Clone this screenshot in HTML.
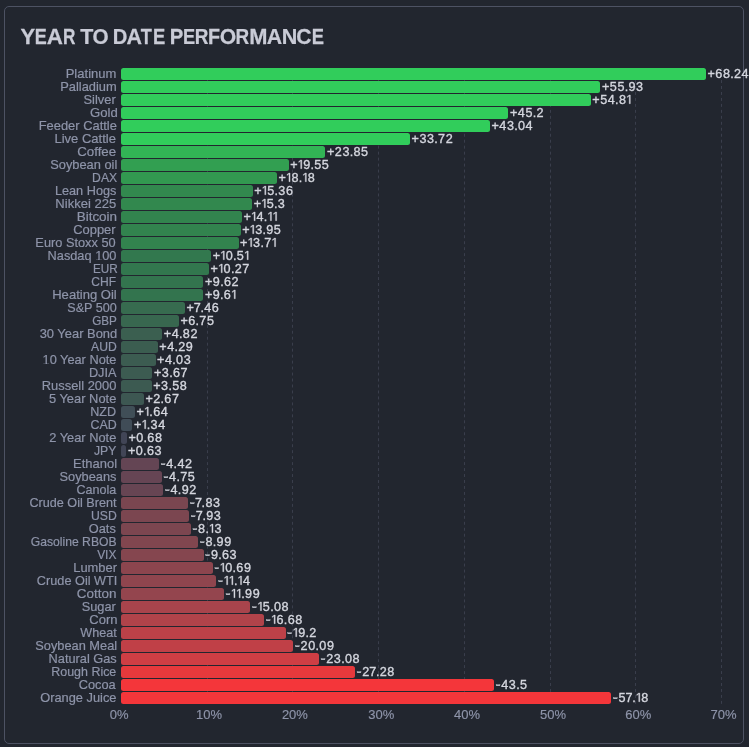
<!DOCTYPE html>
<html><head><meta charset="utf-8"><style>
*{margin:0;padding:0;box-sizing:border-box}
html,body{width:749px;height:747px;overflow:hidden;background:#22262f;font-family:"Liberation Sans",sans-serif}
.card{position:absolute;left:4px;top:6px;width:740px;height:738px;border:1px solid #4d5263;border-radius:5px}
.b{position:absolute;left:121.0px;height:11.7px;border-radius:2.5px}
.l{position:absolute;right:632.2px;height:16px;line-height:16px;font-size:12.7px;color:#8e94a9;white-space:nowrap;text-align:right;transform-origin:100% 50%;-webkit-text-stroke:0.2px #8e94a9}
.t{position:absolute;top:708px;width:60px;text-align:center;font-size:13px;color:#8e94a9;line-height:14px;-webkit-text-stroke:0.15px #8e94a9}
svg{position:absolute;left:0;top:0}
.o{clip-path:polygon(-2px -2px,10px -2px,10px 10.45px,4.45px 10.45px,4.45px 20px,3.05px 20px,3.05px 10.45px,-2px 10.45px)}
#wrap{position:absolute;left:0;top:0;width:749px;height:747px;will-change:transform}
</style></head><body><div id="wrap">
<div class="card"></div>
<svg width="749" height="747"><g fill="#c9cbd6" stroke="#c9cbd6" stroke-width="0.25" font-size="22" font-weight="bold" font-family="Liberation Sans"><text transform="translate(20.43 44.0) scale(0.9969 1)">Y</text><text transform="translate(34.70 44.0) scale(0.8183 1)">E</text><text transform="translate(46.84 44.0) scale(1.0163 1)">A</text><text transform="translate(62.95 44.0) scale(0.7805 1)">R</text><text transform="translate(80.16 44.0) scale(0.9726 1)">T</text><text transform="translate(92.55 44.0) scale(0.9420 1)">O</text><text transform="translate(112.65 44.0) scale(0.9191 1)">D</text><text transform="translate(126.47 44.0) scale(0.9756 1)">A</text><text transform="translate(140.80 44.0) scale(0.8259 1)">T</text><text transform="translate(153.07 44.0) scale(0.8345 1)">E</text><text transform="translate(169.84 44.0) scale(0.9237 1)">P</text><text transform="translate(182.98 44.0) scale(0.8264 1)">E</text><text transform="translate(194.74 44.0) scale(0.8593 1)">R</text><text transform="translate(208.08 44.0) scale(0.8960 1)">F</text><text transform="translate(219.83 44.0) scale(0.9617 1)">O</text><text transform="translate(235.44 44.0) scale(0.8593 1)">R</text><text transform="translate(249.24 44.0) scale(0.9946 1)">M</text><text transform="translate(266.87 44.0) scale(0.9689 1)">A</text><text transform="translate(281.75 44.0) scale(0.9819 1)">N</text><text transform="translate(296.33 44.0) scale(0.9594 1)">C</text><text transform="translate(311.77 44.0) scale(0.8345 1)">E</text></g></svg>
<svg width="749" height="747"><g stroke="#3a3e4c" stroke-width="1" stroke-dasharray="2.985 2.985"><line x1="207.5" y1="68.08" x2="207.5" y2="704.3"/><line x1="292.5" y1="68.08" x2="292.5" y2="704.3"/><line x1="378.5" y1="68.08" x2="378.5" y2="704.3"/><line x1="464.5" y1="68.08" x2="464.5" y2="704.3"/><line x1="550.5" y1="68.08" x2="550.5" y2="704.3"/><line x1="635.5" y1="68.08" x2="635.5" y2="704.3"/><line x1="721.5" y1="68.08" x2="721.5" y2="704.3"/></g></svg>
<div class="b" style="top:68.00px;width:584.91px;background:#31cd5b"></div><div class="l" style="top:65.85px;right:632.25px;transform:scaleX(1.0266)">Platinum</div><div class="b" style="top:81.00px;width:479.40px;background:#31cd5b"></div><div class="l" style="top:78.85px;right:632.36px;transform:scaleX(1.0139)">Palladium</div><div class="b" style="top:94.00px;width:469.80px;background:#31cd5b"></div><div class="l" style="top:91.85px;right:633.37px;transform:scaleX(1.0148)">Silver</div><div class="b" style="top:107.00px;width:387.43px;background:#31cd5b"></div><div class="l" style="top:104.85px;right:631.58px;transform:scaleX(1.0355)">Gold</div><div class="b" style="top:120.00px;width:368.91px;background:#31cd5b"></div><div class="l" style="top:117.85px;right:632.28px;transform:scaleX(1.0166)">Feeder Cattle</div><div class="b" style="top:133.00px;width:289.03px;background:#31cd5b"></div><div class="l" style="top:130.85px;right:632.58px;transform:scaleX(1.0264)">Live Cattle</div><div class="b" style="top:146.00px;width:204.43px;background:#32b455"></div><div class="l" style="top:143.85px;right:632.64px;transform:scaleX(1.0497)">Coffee</div><div class="b" style="top:159.00px;width:167.57px;background:#329f51"></div><div class="l" style="top:156.85px;right:632.12px;transform:scaleX(1.0122)">Soybean oil</div><div class="b" style="top:172.00px;width:155.83px;background:#329850"></div><div class="l" style="top:169.85px;right:632.29px;transform:scaleX(0.9575)">DAX</div><div class="b" style="top:185.00px;width:131.66px;background:#32884e"></div><div class="l" style="top:182.85px;right:632.25px;transform:scaleX(1.0018)">Lean Hogs</div><div class="b" style="top:198.00px;width:131.14px;background:#32884e"></div><div class="l" style="top:195.85px;right:632.54px;transform:scaleX(1.0280)">Nikkei 225</div><div class="b" style="top:211.00px;width:120.94px;background:#32844e"></div><div class="l" style="top:208.85px;right:632.16px;transform:scaleX(1.0612)">Bitcoin</div><div class="b" style="top:224.00px;width:119.57px;background:#32834e"></div><div class="l" style="top:221.85px;right:633.26px;transform:scaleX(1.0205)">Copper</div><div class="b" style="top:237.00px;width:117.51px;background:#32834e"></div><div class="l" style="top:234.85px;right:632.87px;transform:scaleX(1.0081)">Euro Stoxx 50</div><div class="b" style="top:250.00px;width:90.09px;background:#32784e"></div><div class="l" style="top:247.85px;right:632.43px;transform:scaleX(1.0063)">Nasdaq <span class="o">1</span>00</div><div class="b" style="top:263.00px;width:88.03px;background:#32774e"></div><div class="l" style="top:260.85px;right:631.69px;transform:scaleX(0.9247)">EUR</div><div class="b" style="top:276.00px;width:82.46px;background:#33744e"></div><div class="l" style="top:273.85px;right:632.85px;transform:scaleX(0.9524)">CHF</div><div class="b" style="top:289.00px;width:82.37px;background:#33744e"></div><div class="l" style="top:286.85px;right:632.18px;transform:scaleX(1.0287)">Heating Oil</div><div class="b" style="top:302.00px;width:63.94px;background:#376b4f"></div><div class="l" style="top:299.85px;right:632.44px;transform:scaleX(0.9946)">S&amp;P 500</div><div class="b" style="top:315.00px;width:57.86px;background:#38674f"></div><div class="l" style="top:312.85px;right:632.64px;transform:scaleX(0.9206)">GBP</div><div class="b" style="top:328.00px;width:41.31px;background:#3b5f50"></div><div class="l" style="top:325.85px;right:631.90px;transform:scaleX(1.0177)">30 Year Bond</div><div class="b" style="top:341.00px;width:36.77px;background:#3b5d50"></div><div class="l" style="top:338.85px;right:632.06px;transform:scaleX(0.9591)">AUD</div><div class="b" style="top:354.00px;width:34.54px;background:#3c5c51"></div><div class="l" style="top:351.85px;right:632.31px;transform:scaleX(1.0060)"><span class="o">1</span>0 Year Note</div><div class="b" style="top:367.00px;width:31.46px;background:#3c5b51"></div><div class="l" style="top:364.85px;right:632.74px;transform:scaleX(1.0044)">DJIA</div><div class="b" style="top:380.00px;width:30.69px;background:#3c5a51"></div><div class="l" style="top:377.85px;right:632.45px;transform:scaleX(1.0165)">Russell 2000</div><div class="b" style="top:393.00px;width:22.89px;background:#3d5752"></div><div class="l" style="top:390.85px;right:632.35px;transform:scaleX(1.0161)">5 Year Note</div><div class="b" style="top:406.00px;width:14.06px;background:#404e57"></div><div class="l" style="top:403.85px;right:632.60px;transform:scaleX(0.9930)">NZD</div><div class="b" style="top:419.00px;width:11.49px;background:#404c57"></div><div class="l" style="top:416.85px;right:632.71px;transform:scaleX(0.9774)">CAD</div><div class="b" style="top:432.00px;width:5.83px;background:#414556"></div><div class="l" style="top:429.85px;right:632.30px;transform:scaleX(1.0119)">2 Year Note</div><div class="b" style="top:445.00px;width:5.40px;background:#414556"></div><div class="l" style="top:442.85px;right:632.89px;transform:scaleX(0.9614)">JPY</div><div class="b" style="top:458.00px;width:37.89px;background:#644554"></div><div class="l" style="top:455.85px;right:632.37px;transform:scaleX(1.0204)">Ethanol</div><div class="b" style="top:471.00px;width:40.71px;background:#664554"></div><div class="l" style="top:468.85px;right:632.35px;transform:scaleX(1.0093)">Soybeans</div><div class="b" style="top:484.00px;width:42.17px;background:#674553"></div><div class="l" style="top:481.85px;right:633.00px;transform:scaleX(0.9874)">Canola</div><div class="b" style="top:497.00px;width:67.11px;background:#7a4650"></div><div class="l" style="top:494.85px;right:632.89px;transform:scaleX(0.9945)">Crude Oil Brent</div><div class="b" style="top:510.00px;width:67.97px;background:#7b4650"></div><div class="l" style="top:507.85px;right:632.16px;transform:scaleX(0.9620)">USD</div><div class="b" style="top:523.00px;width:69.69px;background:#7c4650"></div><div class="l" style="top:520.85px;right:632.97px;transform:scaleX(1.0055)">Oats</div><div class="b" style="top:536.00px;width:77.06px;background:#81464f"></div><div class="l" style="top:533.85px;right:632.52px;transform:scaleX(0.9581)">Gasoline RBOB</div><div class="b" style="top:549.00px;width:82.54px;background:#85464f"></div><div class="l" style="top:546.85px;right:632.81px;transform:scaleX(0.9448)">VIX</div><div class="b" style="top:562.00px;width:91.63px;background:#8c454e"></div><div class="l" style="top:559.85px;right:632.36px;transform:scaleX(1.0179)">Lumber</div><div class="b" style="top:575.00px;width:95.49px;background:#8f454e"></div><div class="l" style="top:572.85px;right:631.78px;transform:scaleX(1.0019)">Crude Oil WTI</div><div class="b" style="top:588.00px;width:102.77px;background:#94454e"></div><div class="l" style="top:585.85px;right:632.22px;transform:scaleX(1.0606)">Cotton</div><div class="b" style="top:601.00px;width:129.26px;background:#a8444c"></div><div class="l" style="top:598.85px;right:632.85px;transform:scaleX(1.0098)">Sugar</div><div class="b" style="top:614.00px;width:142.97px;background:#b0434a"></div><div class="l" style="top:611.85px;right:631.94px;transform:scaleX(1.0260)">Corn</div><div class="b" style="top:627.00px;width:164.57px;background:#bc4148"></div><div class="l" style="top:624.85px;right:632.83px;transform:scaleX(0.9929)">Wheat</div><div class="b" style="top:640.00px;width:172.20px;background:#c04047"></div><div class="l" style="top:637.85px;right:632.27px;transform:scaleX(1.0091)">Soybean Meal</div><div class="b" style="top:653.00px;width:197.83px;background:#cf3e44"></div><div class="l" style="top:650.85px;right:632.68px;transform:scaleX(1.0065)">Natural Gas</div><div class="b" style="top:666.00px;width:233.83px;background:#e6393c"></div><div class="l" style="top:663.85px;right:632.23px;transform:scaleX(0.9808)">Rough Rice</div><div class="b" style="top:679.00px;width:372.86px;background:#f4363a"></div><div class="l" style="top:676.85px;right:633.41px;transform:scaleX(1.0083)">Cocoa</div><div class="b" style="top:692.00px;width:490.11px;background:#f4363a"></div><div class="l" style="top:689.85px;right:632.34px;transform:scaleX(1.0111)">Orange Juice</div>
<div class="t" style="left:89.10px">0%</div><div class="t" style="left:179.10px">10%</div><div class="t" style="left:264.90px">20%</div><div class="t" style="left:351.20px">30%</div><div class="t" style="left:437.10px">40%</div><div class="t" style="left:523.10px">50%</div><div class="t" style="left:608.20px">60%</div><div class="t" style="left:693.60px">70%</div>
<svg width="749" height="747" style="overflow:visible"><g fill="#d5d7df" stroke="#d5d7df" stroke-width="0.35" font-size="12.6" text-anchor="middle" font-family="Liberation Sans"><g transform="translate(707.31 77.70)"><text x="3.85">+</text><text x="11.50">6</text><text x="19.10">8</text><text x="24.65">.</text><text x="30.20">2</text><text x="37.80">4</text></g><g transform="translate(601.80 90.70)"><text x="3.85">+</text><text x="11.50">5</text><text x="19.10">5</text><text x="24.65">.</text><text x="30.20">9</text><text x="37.80">3</text></g><g transform="translate(592.20 103.70)"><text x="3.85">+</text><text x="11.50">5</text><text x="19.10">4</text><text x="24.65">.</text><text x="30.20">8</text><path transform="translate(33.85 0) scale(0.00615 -0.00615)" d="M515 0V1237L197 1010V1180L530 1409H696V0Z" vector-effect="non-scaling-stroke"/></g><g transform="translate(509.83 116.70)"><text x="3.85">+</text><text x="11.50">4</text><text x="19.10">5</text><text x="24.65">.</text><text x="30.20">2</text></g><g transform="translate(491.31 129.70)"><text x="3.85">+</text><text x="11.50">4</text><text x="19.10">3</text><text x="24.65">.</text><text x="30.20">0</text><text x="37.80">4</text></g><g transform="translate(411.43 142.70)"><text x="3.85">+</text><text x="11.50">3</text><text x="19.10">3</text><text x="24.65">.</text><text x="30.20">7</text><text x="37.80">2</text></g><g transform="translate(326.83 155.70)"><text x="3.85">+</text><text x="11.50">2</text><text x="19.10">3</text><text x="24.65">.</text><text x="30.20">8</text><text x="37.80">5</text></g><g transform="translate(289.97 168.70)"><text x="3.85">+</text><path transform="translate(7.55 0) scale(0.00615 -0.00615)" d="M515 0V1237L197 1010V1180L530 1409H696V0Z" vector-effect="non-scaling-stroke"/><text x="16.70">9</text><text x="22.25">.</text><text x="27.80">5</text><text x="35.40">5</text></g><g transform="translate(278.23 181.70)"><text x="3.85">+</text><path transform="translate(7.55 0) scale(0.00615 -0.00615)" d="M515 0V1237L197 1010V1180L530 1409H696V0Z" vector-effect="non-scaling-stroke"/><text x="16.70">8</text><text x="22.25">.</text><path transform="translate(23.85 0) scale(0.00615 -0.00615)" d="M515 0V1237L197 1010V1180L530 1409H696V0Z" vector-effect="non-scaling-stroke"/><text x="33.00">8</text></g><g transform="translate(254.06 194.70)"><text x="3.85">+</text><path transform="translate(7.55 0) scale(0.00615 -0.00615)" d="M515 0V1237L197 1010V1180L530 1409H696V0Z" vector-effect="non-scaling-stroke"/><text x="16.70">5</text><text x="22.25">.</text><text x="27.80">3</text><text x="35.40">6</text></g><g transform="translate(253.54 207.70)"><text x="3.85">+</text><path transform="translate(7.55 0) scale(0.00615 -0.00615)" d="M515 0V1237L197 1010V1180L530 1409H696V0Z" vector-effect="non-scaling-stroke"/><text x="16.70">5</text><text x="22.25">.</text><text x="27.80">3</text></g><g transform="translate(243.34 220.70)"><text x="3.85">+</text><path transform="translate(7.55 0) scale(0.00615 -0.00615)" d="M515 0V1237L197 1010V1180L530 1409H696V0Z" vector-effect="non-scaling-stroke"/><text x="16.70">4</text><text x="22.25">.</text><path transform="translate(23.85 0) scale(0.00615 -0.00615)" d="M515 0V1237L197 1010V1180L530 1409H696V0Z" vector-effect="non-scaling-stroke"/><path transform="translate(29.05 0) scale(0.00615 -0.00615)" d="M515 0V1237L197 1010V1180L530 1409H696V0Z" vector-effect="non-scaling-stroke"/></g><g transform="translate(241.97 233.70)"><text x="3.85">+</text><path transform="translate(7.55 0) scale(0.00615 -0.00615)" d="M515 0V1237L197 1010V1180L530 1409H696V0Z" vector-effect="non-scaling-stroke"/><text x="16.70">3</text><text x="22.25">.</text><text x="27.80">9</text><text x="35.40">5</text></g><g transform="translate(239.91 246.70)"><text x="3.85">+</text><path transform="translate(7.55 0) scale(0.00615 -0.00615)" d="M515 0V1237L197 1010V1180L530 1409H696V0Z" vector-effect="non-scaling-stroke"/><text x="16.70">3</text><text x="22.25">.</text><text x="27.80">7</text><path transform="translate(31.45 0) scale(0.00615 -0.00615)" d="M515 0V1237L197 1010V1180L530 1409H696V0Z" vector-effect="non-scaling-stroke"/></g><g transform="translate(212.49 259.70)"><text x="3.85">+</text><path transform="translate(7.55 0) scale(0.00615 -0.00615)" d="M515 0V1237L197 1010V1180L530 1409H696V0Z" vector-effect="non-scaling-stroke"/><text x="16.70">0</text><text x="22.25">.</text><text x="27.80">5</text><path transform="translate(31.45 0) scale(0.00615 -0.00615)" d="M515 0V1237L197 1010V1180L530 1409H696V0Z" vector-effect="non-scaling-stroke"/></g><g transform="translate(210.43 272.70)"><text x="3.85">+</text><path transform="translate(7.55 0) scale(0.00615 -0.00615)" d="M515 0V1237L197 1010V1180L530 1409H696V0Z" vector-effect="non-scaling-stroke"/><text x="16.70">0</text><text x="22.25">.</text><text x="27.80">2</text><text x="35.40">7</text></g><g transform="translate(204.86 285.70)"><text x="3.85">+</text><text x="11.50">9</text><text x="17.05">.</text><text x="22.60">6</text><text x="30.20">2</text></g><g transform="translate(204.77 298.70)"><text x="3.85">+</text><text x="11.50">9</text><text x="17.05">.</text><text x="22.60">6</text><path transform="translate(26.25 0) scale(0.00615 -0.00615)" d="M515 0V1237L197 1010V1180L530 1409H696V0Z" vector-effect="non-scaling-stroke"/></g><g transform="translate(186.34 311.70)"><text x="3.85">+</text><text x="10.90">7</text><text x="15.85">.</text><text x="21.40">4</text><text x="29.00">6</text></g><g transform="translate(180.26 324.70)"><text x="3.85">+</text><text x="11.50">6</text><text x="17.05">.</text><text x="22.60">7</text><text x="30.20">5</text></g><g transform="translate(163.71 337.70)"><text x="3.85">+</text><text x="11.50">4</text><text x="17.05">.</text><text x="22.60">8</text><text x="30.20">2</text></g><g transform="translate(159.17 350.70)"><text x="3.85">+</text><text x="11.50">4</text><text x="17.05">.</text><text x="22.60">2</text><text x="30.20">9</text></g><g transform="translate(156.94 363.70)"><text x="3.85">+</text><text x="11.50">4</text><text x="17.05">.</text><text x="22.60">0</text><text x="30.20">3</text></g><g transform="translate(153.86 376.70)"><text x="3.85">+</text><text x="11.50">3</text><text x="17.05">.</text><text x="22.60">6</text><text x="30.20">7</text></g><g transform="translate(153.09 389.70)"><text x="3.85">+</text><text x="11.50">3</text><text x="17.05">.</text><text x="22.60">5</text><text x="30.20">8</text></g><g transform="translate(145.29 402.70)"><text x="3.85">+</text><text x="11.50">2</text><text x="17.05">.</text><text x="22.60">6</text><text x="30.20">7</text></g><g transform="translate(136.46 415.70)"><text x="3.85">+</text><path transform="translate(7.55 0) scale(0.00615 -0.00615)" d="M515 0V1237L197 1010V1180L530 1409H696V0Z" vector-effect="non-scaling-stroke"/><text x="14.65">.</text><text x="20.20">6</text><text x="27.80">4</text></g><g transform="translate(133.89 428.70)"><text x="3.85">+</text><path transform="translate(7.55 0) scale(0.00615 -0.00615)" d="M515 0V1237L197 1010V1180L530 1409H696V0Z" vector-effect="non-scaling-stroke"/><text x="14.65">.</text><text x="20.20">3</text><text x="27.80">4</text></g><g transform="translate(128.23 441.70)"><text x="3.85">+</text><text x="11.50">0</text><text x="17.05">.</text><text x="22.60">6</text><text x="30.20">8</text></g><g transform="translate(127.80 454.70)"><text x="3.85">+</text><text x="11.50">0</text><text x="17.05">.</text><text x="22.60">6</text><text x="30.20">3</text></g><g transform="translate(160.19 467.70)"><rect x="0.95" y="-3.93" width="3.9" height="0.95"/><text x="9.60">4</text><text x="15.15">.</text><text x="20.70">4</text><text x="28.30">2</text></g><g transform="translate(163.01 480.70)"><rect x="0.95" y="-3.93" width="3.9" height="0.95"/><text x="9.60">4</text><text x="15.15">.</text><text x="20.70">7</text><text x="28.30">5</text></g><g transform="translate(164.47 493.70)"><rect x="0.95" y="-3.93" width="3.9" height="0.95"/><text x="9.60">4</text><text x="15.15">.</text><text x="20.70">9</text><text x="28.30">2</text></g><g transform="translate(189.41 506.70)"><rect x="0.95" y="-3.93" width="3.9" height="0.95"/><text x="9.00">7</text><text x="13.95">.</text><text x="19.50">8</text><text x="27.10">3</text></g><g transform="translate(190.27 519.70)"><rect x="0.95" y="-3.93" width="3.9" height="0.95"/><text x="9.00">7</text><text x="13.95">.</text><text x="19.50">9</text><text x="27.10">3</text></g><g transform="translate(191.99 532.70)"><rect x="0.95" y="-3.93" width="3.9" height="0.95"/><text x="9.60">8</text><text x="15.15">.</text><path transform="translate(16.75 0) scale(0.00615 -0.00615)" d="M515 0V1237L197 1010V1180L530 1409H696V0Z" vector-effect="non-scaling-stroke"/><text x="25.90">3</text></g><g transform="translate(199.36 545.70)"><rect x="0.95" y="-3.93" width="3.9" height="0.95"/><text x="9.60">8</text><text x="15.15">.</text><text x="20.70">9</text><text x="28.30">9</text></g><g transform="translate(204.84 558.70)"><rect x="0.95" y="-3.93" width="3.9" height="0.95"/><text x="9.60">9</text><text x="15.15">.</text><text x="20.70">6</text><text x="28.30">3</text></g><g transform="translate(213.93 571.70)"><rect x="0.95" y="-3.93" width="3.9" height="0.95"/><path transform="translate(5.65 0) scale(0.00615 -0.00615)" d="M515 0V1237L197 1010V1180L530 1409H696V0Z" vector-effect="non-scaling-stroke"/><text x="14.80">0</text><text x="20.35">.</text><text x="25.90">6</text><text x="33.50">9</text></g><g transform="translate(217.79 584.70)"><rect x="0.95" y="-3.93" width="3.9" height="0.95"/><path transform="translate(5.65 0) scale(0.00615 -0.00615)" d="M515 0V1237L197 1010V1180L530 1409H696V0Z" vector-effect="non-scaling-stroke"/><path transform="translate(10.85 0) scale(0.00615 -0.00615)" d="M515 0V1237L197 1010V1180L530 1409H696V0Z" vector-effect="non-scaling-stroke"/><text x="17.95">.</text><path transform="translate(19.55 0) scale(0.00615 -0.00615)" d="M515 0V1237L197 1010V1180L530 1409H696V0Z" vector-effect="non-scaling-stroke"/><text x="28.70">4</text></g><g transform="translate(225.07 597.70)"><rect x="0.95" y="-3.93" width="3.9" height="0.95"/><path transform="translate(5.65 0) scale(0.00615 -0.00615)" d="M515 0V1237L197 1010V1180L530 1409H696V0Z" vector-effect="non-scaling-stroke"/><path transform="translate(10.85 0) scale(0.00615 -0.00615)" d="M515 0V1237L197 1010V1180L530 1409H696V0Z" vector-effect="non-scaling-stroke"/><text x="17.95">.</text><text x="23.50">9</text><text x="31.10">9</text></g><g transform="translate(251.56 610.70)"><rect x="0.95" y="-3.93" width="3.9" height="0.95"/><path transform="translate(5.65 0) scale(0.00615 -0.00615)" d="M515 0V1237L197 1010V1180L530 1409H696V0Z" vector-effect="non-scaling-stroke"/><text x="14.80">5</text><text x="20.35">.</text><text x="25.90">0</text><text x="33.50">8</text></g><g transform="translate(265.27 623.70)"><rect x="0.95" y="-3.93" width="3.9" height="0.95"/><path transform="translate(5.65 0) scale(0.00615 -0.00615)" d="M515 0V1237L197 1010V1180L530 1409H696V0Z" vector-effect="non-scaling-stroke"/><text x="14.80">6</text><text x="20.35">.</text><text x="25.90">6</text><text x="33.50">8</text></g><g transform="translate(286.87 636.70)"><rect x="0.95" y="-3.93" width="3.9" height="0.95"/><path transform="translate(5.65 0) scale(0.00615 -0.00615)" d="M515 0V1237L197 1010V1180L530 1409H696V0Z" vector-effect="non-scaling-stroke"/><text x="14.80">9</text><text x="20.35">.</text><text x="25.90">2</text></g><g transform="translate(294.50 649.70)"><rect x="0.95" y="-3.93" width="3.9" height="0.95"/><text x="9.60">2</text><text x="17.20">0</text><text x="22.75">.</text><text x="28.30">0</text><text x="35.90">9</text></g><g transform="translate(320.13 662.70)"><rect x="0.95" y="-3.93" width="3.9" height="0.95"/><text x="9.60">2</text><text x="17.20">3</text><text x="22.75">.</text><text x="28.30">0</text><text x="35.90">8</text></g><g transform="translate(356.13 675.70)"><rect x="0.95" y="-3.93" width="3.9" height="0.95"/><text x="9.60">2</text><text x="16.60">7</text><text x="21.55">.</text><text x="27.10">2</text><text x="34.70">8</text></g><g transform="translate(495.16 688.70)"><rect x="0.95" y="-3.93" width="3.9" height="0.95"/><text x="9.60">4</text><text x="17.20">3</text><text x="22.75">.</text><text x="28.30">5</text></g><g transform="translate(612.41 701.70)"><rect x="0.95" y="-3.93" width="3.9" height="0.95"/><text x="9.60">5</text><text x="16.60">7</text><text x="21.55">.</text><path transform="translate(23.15 0) scale(0.00615 -0.00615)" d="M515 0V1237L197 1010V1180L530 1409H696V0Z" vector-effect="non-scaling-stroke"/><text x="32.30">8</text></g></g></svg>
</div></body></html>
